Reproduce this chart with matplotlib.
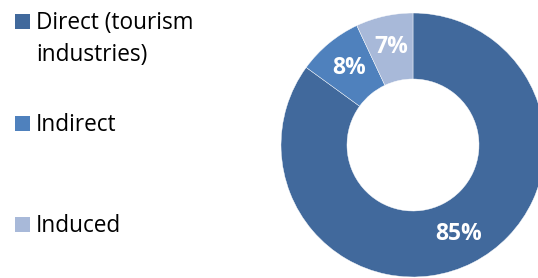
import matplotlib.pyplot as plt
from matplotlib.patches import Rectangle

# Data
labels = ['Direct (tourism\nindustries)', 'Indirect', 'Induced']
shares = [85, 8, 7]
colors = ['#41699C', '#4F81BD', '#A8B9D9']

plt.rcParams['font.family'] = ['Open Sans', 'DejaVu Sans']

fig = plt.figure(figsize=(5.38, 2.78), dpi=100)

# Donut on the right
ax = fig.add_axes([0.5223, 0.0036, 0.4907, 0.9496])
wedges, texts, autotexts = ax.pie(
    shares, colors=colors, startangle=90, counterclock=False,
    radius=1, wedgeprops=dict(width=0.5, edgecolor='white', linewidth=0.3),
    autopct='%d%%', pctdistance=0.76)
for t in autotexts:
    t.set_color('white')
    t.set_fontsize(16.5)
    t.set_fontweight('bold')
ax.set_xlim(-1, 1)
ax.set_ylim(-1, 1)
ax.set_aspect('equal')
ax.axis('off')

# Legend on the left, drawn by hand to match the spacing
W, H = 538, 278
key_y = [22, 124, 225]   # centre of each key square, pixels from top
for lab, col, y in zip(labels, colors, key_y):
    fig.patches.append(Rectangle((15 / W, 1 - (y + 7) / H), 15 / W, 15 / H,
                                 transform=fig.transFigure, facecolor=col,
                                 edgecolor='none'))
    fig.text(36 / W, 1 - (y - 11) / H, lab, fontsize=16.3, va='top',
             ha='left', color='black', linespacing=1.45)

fig.savefig('out.png', dpi=100)
